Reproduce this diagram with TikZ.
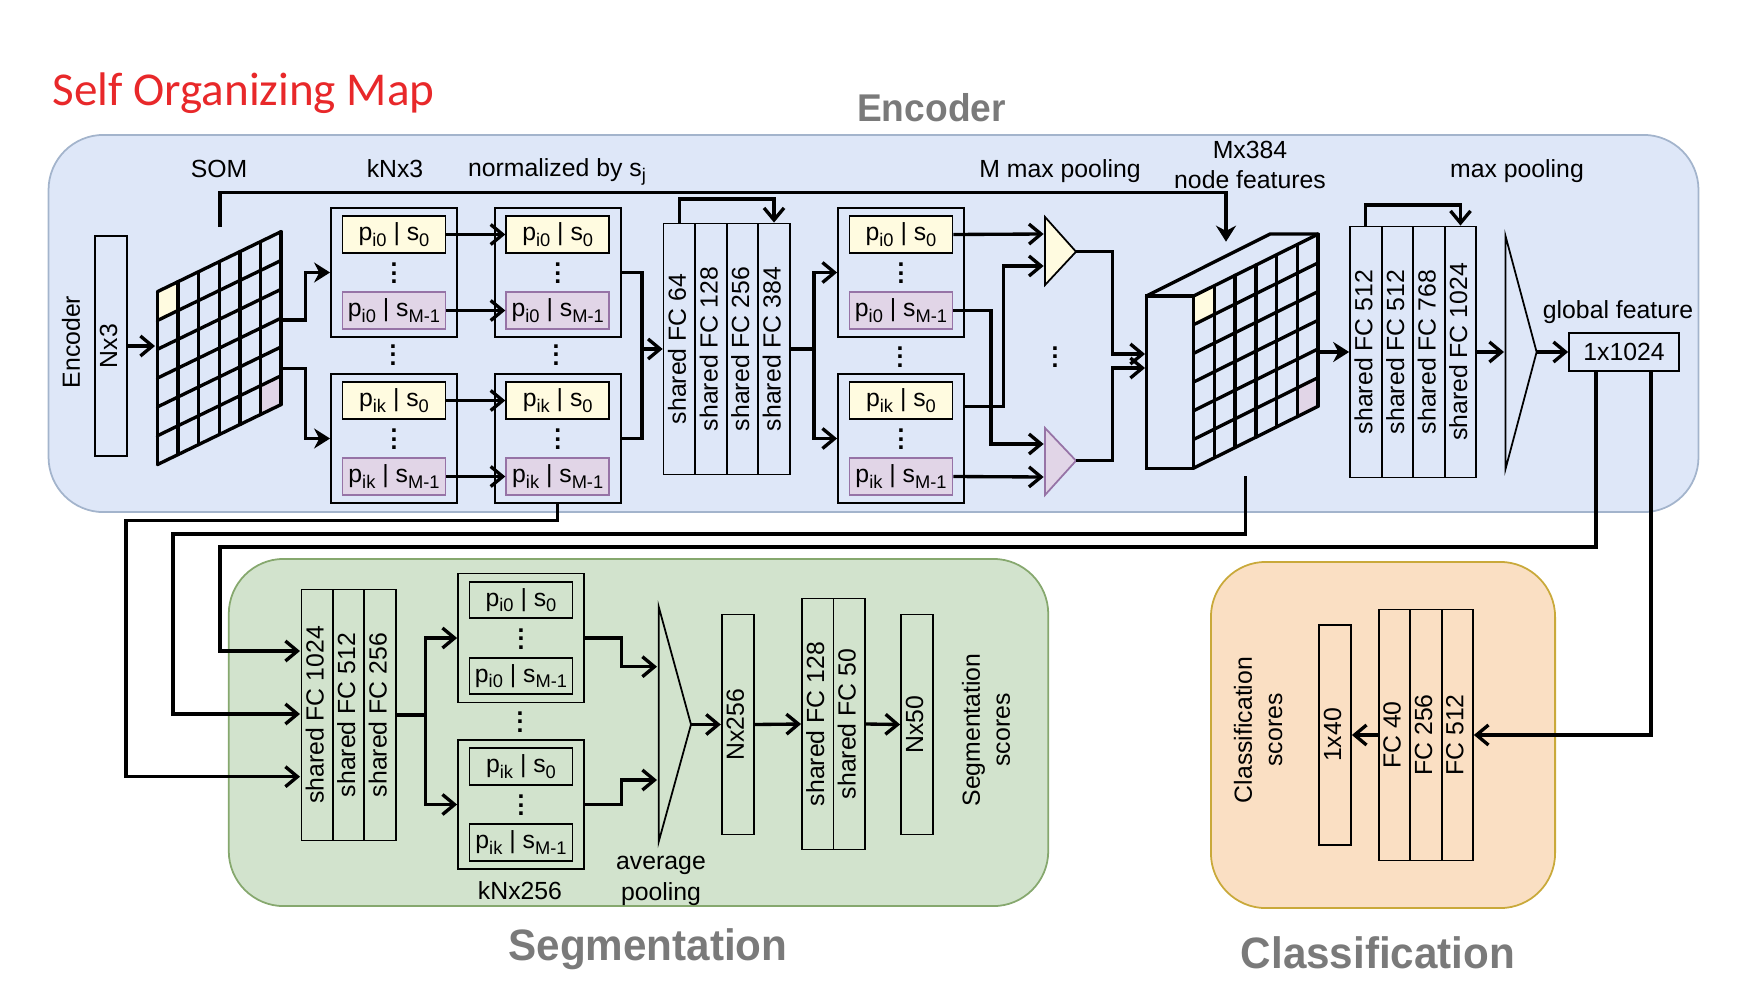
\documentclass[tikz,border=0pt]{standalone}
\usepackage{fontspec}
\usepackage{amsmath,amssymb}
\usepackage{tikz}
\usetikzlibrary{arrows.meta, calc}
\usepackage{xcolor}
\setmainfont{Liberation Sans}
\newfontfamily\somfont{Carlito}
\newfontfamily\titlefont[FakeStretch=0.96]{Liberation Sans}
\definecolor{encfill}{HTML}{DEE7F8}
\definecolor{encline}{HTML}{A3B4CC}
\definecolor{segfill}{HTML}{D2E3CD}
\definecolor{segline}{HTML}{86A86E}
\definecolor{clsfill}{HTML}{FADFC3}
\definecolor{clsline}{HTML}{C9A93A}
\definecolor{cellyellow}{HTML}{FFFBE0}
\definecolor{cellpurple}{HTML}{E1D5E7}
\definecolor{purpleline}{HTML}{9673A6}
\definecolor{titlegray}{HTML}{7A7A7A}
\definecolor{somred}{HTML}{E8282A}
\newcommand{\labelsize}{\fontsize{7.05}{8.6}\selectfont}
\newcommand{\subtext}[1]{\raisebox{-1.5pt}{\fontsize{5.2}{6}\selectfont #1}}
\newcommand{\pnorm}[2]{p\subtext{#1} | s\subtext{#2}}
\newcommand{\vtext}[1]{\rotatebox{90}{\rule[-1.4pt]{0pt}{1pt}#1}}
\newcommand{\tridots}{\vbox{\bfseries\baselineskip=2.4pt\lineskiplimit=-10pt\hbox{.}\hbox{.}\hbox{.}}}
\newcommand{\cellgrid}{
  \fill[cellyellow] (0,0) -- (1,0) -- (1,1) -- (0,1) -- cycle;
  \fill[cellpurple] (5,5) -- (6,5) -- (6,6) -- (5,6) -- cycle;
  \foreach \i in {0,...,6} {
    \draw[gridline] (\i,0) -- (\i,6);
    \draw[gridline] (0,\i) -- (6,\i);
  }
}

\begin{document}
\begin{tikzpicture}[
  x=0.01cm, y=-0.01cm,
  every node/.style={font=\labelsize, inner sep=0pt},
  panel/.style={rectangle, draw, line width=0.5pt, rounded corners=0.55cm},
  fcol/.style={rectangle, draw, line width=0.5pt, minimum width=0.315cm, minimum height=2.51cm},
  vecbox/.style={rectangle, draw, line width=0.5pt, minimum width=0.32cm, minimum height=2.2cm},
  outerbox/.style={rectangle, draw, line width=0.5pt, minimum width=1.26cm, minimum height=1.29cm},
  innerbox/.style={rectangle, draw, line width=0.5pt, minimum width=1.03cm, minimum height=0.365cm},
  inyellow/.style={innerbox, fill=cellyellow},
  inpurple/.style={innerbox, fill=cellpurple, draw=purpleline},
  inplain/.style={innerbox},
  gridline/.style={line width=0.95pt, line cap=round},
  pool/.style={line width=0.5pt, line join=miter},
  link/.style={line width=0.95pt},
  arrow/.style={-{Straight Barb[length=1.2mm, width=2mm]}, line width=0.95pt},
  fatarrow/.style={-{Stealth[length=1.6mm, width=2mm]}, line width=0.95pt},
  dots/.style={font=\labelsize},
]
\useasboundingbox (0,0) rectangle (1755,988);

\node[panel, fill=encfill, draw=encline, minimum width=16.49cm, minimum height=3.77cm] (encoderpanel) at (873.5,323.5) {};
\node[panel, fill=segfill, draw=segline, minimum width=8.19cm, minimum height=3.47cm] (segpanel) at (638.5,732.5) {};
\node[panel, fill=clsfill, draw=clsline, minimum width=3.44cm, minimum height=3.46cm] (clspanel) at (1383,735) {};

\node[font=\somfont\fontsize{13.4}{15}\selectfont, text=somred] (somtitle) at (243.5,93) {Self Organizing Map};
\node[font=\titlefont\bfseries\fontsize{11}{13}\selectfont, text=titlegray] (enctitle) at (931.5,107.5) {Encoder};
\node[font=\titlefont\bfseries\fontsize{12.5}{14}\selectfont, text=titlegray] (segtitle) at (648,949) {Segmentation};
\node[font=\titlefont\bfseries\fontsize{12.5}{14}\selectfont, text=titlegray] (clstitle) at (1378,952.5) {Classification};

\node (somlabel) at (219,169) {SOM};
\node (knnlabel) at (395,169) {kNx3};
\node (normlabel) at (557,172) {normalized by s\subtext{j}};
\node (mpoollabel) at (1060,171) {M max pooling};
\node[align=center] (nodelabel) at (1250,165) {Mx384\\node features};
\node (poollabel) at (1517,171) {max pooling};
\node (globallabel) at (1618,312) {global feature};
\node[rotate=90] (enclabel) at (71,342) {Encoder};
\node (knnseglabel) at (520,891) {kNx256};
\node[align=center] (avglabel) at (661,881) {average\\pooling};
\node[rotate=90, align=center] (segscores) at (986,730) {Segmentation\\scores};
\node[rotate=90, align=center] (clsscores) at (1258,730) {Classification\\scores};

\node[vecbox] (nxthree) at (111,346) {\vtext{Nx3}};
\node[vecbox] (nxtwo) at (737.7,724.5) {\vtext{Nx256}};
\node[vecbox] (nxfifty) at (917,724.5) {\vtext{Nx50}};
\node[vecbox] (clsvec) at (1335,735) {\vtext{1x40}};
\node[rectangle, draw, line width=0.5pt, minimum width=1.1cm, minimum height=0.38cm] (globalvec) at (1624,352) {1x1024};

\foreach \boxid/\cx/\cy/\idx/\tstyle/\bstyle in {
  knnA/394/272.5/i0/inyellow/inpurple, knnB/394/438.5/ik/inyellow/inpurple,
  normA/557.7/272.5/i0/inyellow/inpurple, normB/557.7/438.5/ik/inyellow/inpurple,
  maxA/901/272.5/i0/inyellow/inpurple, maxB/901/438.5/ik/inyellow/inpurple,
  segA/521/638/i0/inplain/inplain, segB/521/804.5/ik/inplain/inplain} {
  \node[outerbox] (\boxid) at (\cx,\cy) {};
  \node[\tstyle] (\boxid top) at (\cx,\cy-38) {\pnorm{\idx}{0}};
  \node[\bstyle] (\boxid bot) at (\cx,\cy+38) {\pnorm{\idx}{M-1}};
  \node[dots] (\boxid dots) at (\cx,\cy+1) {\tridots};
}
\node[dots] (knndots) at (393,355) {\tridots};
\node[dots] (normdots) at (556,355) {\tridots};
\node[dots] (maxdots) at (900,357) {\tridots};
\node[dots] (pooldots) at (1055,357) {\tridots};
\node[dots] (segdots) at (520,722) {\tridots};

\node[fcol] (fcsixtyfour) at (679.3,349) {\vtext{shared FC 64}};
\node[fcol] (fconetwoeight) at (711,349) {\vtext{shared FC 128}};
\node[fcol] (fctwofivesix) at (742.5,349) {\vtext{shared FC 256}};
\node[fcol] (fcthreeeightfour) at (774,349) {\vtext{shared FC 384}};

\node[fcol] (fcnodeA) at (1365.8,352) {\vtext{shared FC 512}};
\node[fcol] (fcnodeB) at (1397.5,352) {\vtext{shared FC 512}};
\node[fcol] (fcnodeC) at (1429.2,352) {\vtext{shared FC 768}};
\node[fcol] (fcnodeD) at (1460.5,352) {\vtext{shared FC 1024}};

\node[fcol] (fcsegA) at (317.2,715) {\vtext{shared FC 1024}};
\node[fcol] (fcsegB) at (348.6,715) {\vtext{shared FC 512}};
\node[fcol] (fcsegC) at (380,715) {\vtext{shared FC 256}};

\node[fcol] (fcscoreA) at (817.7,724) {\vtext{shared FC 128}};
\node[fcol] (fcscoreB) at (849.2,724) {\vtext{shared FC 50}};

\node[fcol] (fcclsA) at (1394.4,735) {\vtext{FC 40}};
\node[fcol] (fcclsB) at (1426,735) {\vtext{FC 256}};
\node[fcol] (fcclsC) at (1457.2,735) {\vtext{FC 512}};

\begin{scope}[shift={(157.4,291.7)}, x={(0.206cm,0.1cm)}, y={(0cm,-0.288cm)}]
  \cellgrid
\end{scope}
\begin{scope}[shift={(1193.6,296)}, x={(0.2073cm,0.103cm)}, y={(0cm,-0.2867cm)}]
  \cellgrid
\end{scope}
\draw[gridline] (1193.6,296) -- (1146.4,296) -- (1146.4,468.5) -- (1193.6,468.5);
\draw[gridline] (1146.4,296) -- (1270,234) -- (1318,234);

\draw[pool, fill=cellyellow] (1045,217) -- (1076,251.7) -- (1045,285) -- cycle;
\draw[pool, fill=cellpurple, draw=purpleline] (1045,428) -- (1076,460.7) -- (1045,495) -- cycle;
\draw[pool] (1505.5,236) -- (1536.6,352) -- (1505.5,469) -- cycle;
\draw[pool] (658.7,606.7) -- (691,724.5) -- (658.7,841.7) -- cycle;

\coordinate (nxin) at (155,346);
\coordinate (somoutA) at (281,320);
\coordinate (somoutB) at (281,368.3);
\coordinate (skipstart) at (220,227);
\coordinate (cubetop) at (1226,241.7);
\coordinate (normjoin) at (642,349);
\coordinate (fcsplit) at (814,349);
\coordinate (maxBout) at (964,406.7);
\coordinate (poolAinA) at (1043.6,234);
\coordinate (poolAinB) at (1043.6,266);
\coordinate (poolBinA) at (1043.6,444);
\coordinate (poolBinB) at (1043.6,477);
\coordinate (poolAtip) at (1076,251.7);
\coordinate (poolBtip) at (1076,460.7);
\coordinate (cubeinA) at (1145,354);
\coordinate (cubeinB) at (1145,368);
\coordinate (cubeout) at (1318,352);
\coordinate (cubedown) at (1245.5,476);
\coordinate (globalbase) at (1504,352);
\coordinate (globaltip) at (1536.6,352);
\coordinate (globoutA) at (1596,371);
\coordinate (globoutB) at (1651,371);
\coordinate (seginA) at (300,651);
\coordinate (seginB) at (300,714);
\coordinate (seginC) at (300,776.7);
\coordinate (segsplit) at (425.7,715);
\coordinate (avginA) at (657,666.7);
\coordinate (avginB) at (657,780);
\coordinate (avgtip) at (691,724.5);

\draw[arrow] (nxthree) -- (nxin);
\draw[fatarrow] (somoutA) -- ++(24.7,0) |- (knnA.west);
\draw[fatarrow] (somoutB) -- ++(24.7,0) |- (knnB.west);
\draw[arrow] (knnAtop.east) -- (normAtop.west);
\draw[arrow] (knnAbot.east) -- (normAbot.west);
\draw[arrow] (knnBtop.east) -- (normBtop.west);
\draw[arrow] (knnBbot.east) -- (normBbot.west);
\draw[link] (normA.east) -| (normjoin) |- (normB.east);
\draw[arrow] (normjoin) -- (fcsixtyfour.west);
\draw[arrow] (fcsixtyfour.north) -- ++(0,-23.5) -| (fcthreeeightfour.north);
\draw[link] (fcthreeeightfour.east) -- (fcsplit);
\draw[arrow] (fcsplit) |- (maxA.west);
\draw[arrow] (fcsplit) |- (maxB.west);
\draw[arrow] (maxAtop.east) -- (poolAinA);
\draw[arrow] (maxAbot.east) -- ++(37.5,0) |- (poolBinA);
\draw[arrow] (maxBout) -- ++(39.6,0) |- (poolAinB);
\draw[arrow] (maxBbot.east) -- (poolBinB);
\draw[arrow] (poolAtip) -- ++(36.5,0) |- (cubeinA);
\draw[arrow] (poolBtip) -- ++(36.5,0) |- (cubeinB);
\draw[fatarrow] (skipstart) -- ++(0,-34.3) -| (cubetop);
\draw[fatarrow] (cubeout) -- (fcnodeA.west);
\draw[arrow] (fcnodeA.north) -- ++(0,-20.7) -| (fcnodeD.north);
\draw[arrow] (fcnodeD.east) -- (globalbase);
\draw[arrow] (globaltip) -- (globalvec.west);

\draw[arrow] (globoutA) -- ++(0,176) -- ++(-1376,0) |- (seginA);
\draw[arrow] (cubedown) -- ++(0,58) -- ++(-1072.5,0) |- (seginB);
\draw[arrow] (normB.south) -- ++(0,16.5) -- ++(-431.7,0) |- (seginC);
\draw[arrow] (globoutB) |- (fcclsC.east);
\draw[arrow] (fcclsA.west) -- (clsvec.east);

\draw[link] (fcsegC.east) -- (segsplit);
\draw[arrow] (segsplit) |- (segA.west);
\draw[arrow] (segsplit) |- (segB.west);
\draw[arrow] (segA.east) -- ++(36.7,0) |- (avginA);
\draw[arrow] (segB.east) -- ++(36.7,0) |- (avginB);
\draw[arrow] (avgtip) -- (nxtwo.west);
\draw[arrow] (nxtwo.east) -- (fcscoreA.west);
\draw[arrow] (fcscoreB.east) -- (nxfifty.west);

\end{tikzpicture}
\end{document}
